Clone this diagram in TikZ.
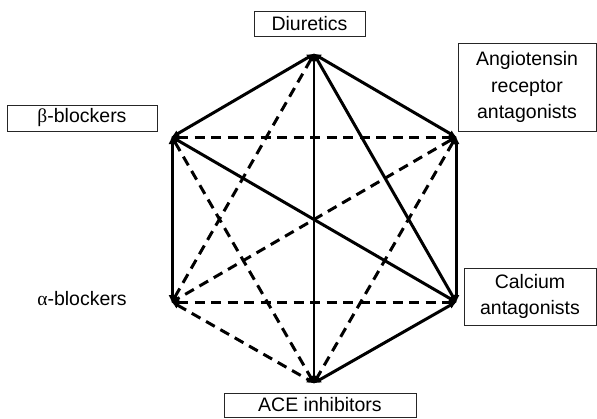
\documentclass[tikz,border=0pt]{standalone}
\usepackage{fontspec}
\setmainfont{Liberation Sans}
\newfontfamily\grk{Liberation Serif}
\usetikzlibrary{arrows.meta}
\begin{document}
\begin{tikzpicture}[x=1pt,y=-1pt,
  lbl/.style={draw=black!85,line width=1pt,inner sep=0pt,align=center,font=\fontsize{19.5}{26.5}\selectfont},
  plainlbl/.style={inner sep=0pt,align=center,font=\fontsize{19.5}{26.5}\selectfont},
  edge/.style={line width=3pt,{Latex[length=8pt,width=7pt]}-{Latex[length=8pt,width=7pt]},shorten <=-1pt,shorten >=-1pt},
  solidedge/.style={edge},
  dashedge/.style={edge,dash pattern=on 10pt off 6.5pt}]
\useasboundingbox (0,0) rectangle (597,418);
% vertices
\coordinate (D) at (314,54);
\coordinate (A) at (456,137);
\coordinate (C) at (456,302);
\coordinate (E) at (314,383);
\coordinate (Al) at (172,302);
\coordinate (B) at (172,137);
% labels
\node[lbl,minimum width=111pt,minimum height=25pt] (dl) at (309.5,23.5) {Diuretics};
\node[lbl,minimum width=150pt,minimum height=26pt] (bl) at (82,118) {{\grk β}-blockers};
\node[plainlbl] (al) at (82,299) {{\grk α}-blockers};
\node[lbl,minimum width=138pt,minimum height=88pt] (arl) at (527,87) {Angiotensin\\receptor\\antagonists};
\node[lbl,minimum width=132pt,minimum height=57pt] (cl) at (530,296.5) {Calcium\\antagonists};
\node[lbl,minimum width=192pt,minimum height=24pt] (el) at (320,405) {ACE inhibitors};
% dashed edges
\draw[dashedge] (D) -- (Al);
\draw[dashedge] (B) -- (A);
\draw[dashedge] (B) -- (E);
\draw[dashedge] (A) -- (Al);
\draw[dashedge] (A) -- (E);
\draw[dashedge] (Al) -- (C);
\draw[dashedge] (Al) -- (E);
% solid edges
\draw[solidedge] (D) -- (B);
\draw[solidedge] (D) -- (A);
\draw[solidedge,line width=2.4pt] (D) -- (E);
\draw[solidedge] (D) -- (C);
\draw[solidedge] (B) -- (Al);
\draw[solidedge] (B) -- (C);
\draw[solidedge] (A) -- (C);
\draw[solidedge] (C) -- (E);
\end{tikzpicture}
\end{document}
